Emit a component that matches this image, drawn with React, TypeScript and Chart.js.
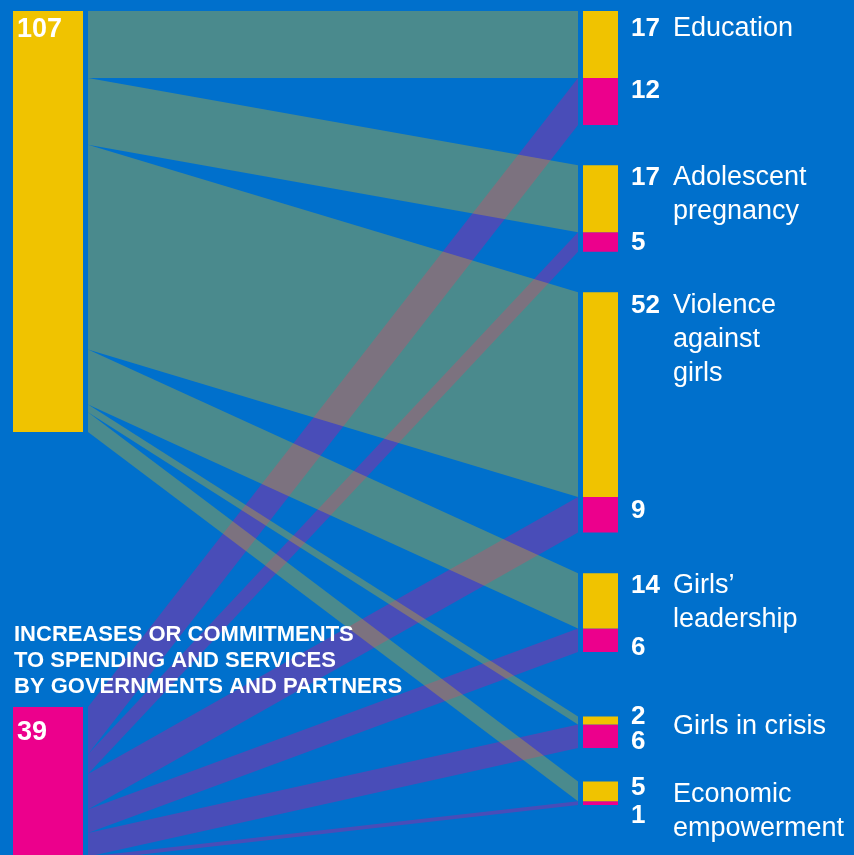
import { useEffect, useRef } from "react";
import { Chart, registerables } from "chart.js";

Chart.register(...registerables);

// ---------- DATA ----------
const targetNames: string[][] = [
  ["Education"],
  ["Adolescent", "pregnancy"],
  ["Violence", "against", "girls"],
  ["Girls\u2019", "leadership"],
  ["Girls in crisis"],
  ["Economic", "empowerment"],
];
const governmentValues: number[] = [17, 17, 52, 14, 2, 5];
const partnerValues: number[] = [12, 5, 9, 6, 6, 1];
const annotationLines: string[] = [
  "INCREASES OR COMMITMENTS",
  "TO SPENDING AND SERVICES",
  "BY GOVERNMENTS AND PARTNERS",
];

// ---------- LAYOUT / STYLE ----------
const W = 854;
const H = 855;
const PX_PER_UNIT = 3.935;
const TOP_PX = 11;
const TARGET_GAPS = [10.2, 10.3, 10.4, 16.4, 8.5];
const SOURCE_GAP = 69.9;
const LEFT_NODE_X: [number, number] = [13, 83];
const FLOW_X: [number, number] = [88, 578];
const RIGHT_NODE_X: [number, number] = [583, 618];
const NUM_X = 631;
const NAME_X = 673;
const NAME_LINE_H = 34;
const YELLOW_NUM_OFF = [25, 20, 21, 20, 7, 14];
const MAGENTA_NUM_OFF = [20, 18, 21, 27, 25, 22];
const NAME_OFF = [25, 20, 21, 20, 17, 21];

const BG = "#0070CC";
const YELLOW = "#F0C300";
const MAGENTA = "#EC008C";
const YELLOW_FLOW = "rgba(240,196,0,0.31)";
const MAGENTA_FLOW = "rgba(236,0,140,0.31)";
const FONT = "'Liberation Sans', Arial, Helvetica, sans-serif";

export default function App() {
  const ref = useRef<HTMLCanvasElement | null>(null);

  useEffect(() => {
    if (!ref.current) return;
    const sum = (a: number[]) => a.reduce((s, v) => s + v, 0);
    const govTotal = sum(governmentValues);
    const partTotal = sum(partnerValues);

    // target group starts (value units)
    const groupStart: number[] = [];
    let cur = 0;
    governmentValues.forEach((g, i) => {
      groupStart.push(cur);
      cur += g + partnerValues[i];
      if (i < TARGET_GAPS.length) cur += TARGET_GAPS[i];
    });
    const partnerSourceStart = govTotal + SOURCE_GAP;

    const datasets: any[] = [];
    const band = (
      x0: number, a0: number, b0: number,
      x1: number, a1: number, b1: number,
      color: string, order: number
    ) => {
      datasets.push({
        data: [{ x: x0, y: a0 }, { x: x1, y: a1 }],
        borderColor: "rgba(0,0,0,0)",
        borderWidth: 0,
        pointRadius: 0,
        fill: false,
        order,
      });
      datasets.push({
        data: [{ x: x0, y: b0 }, { x: x1, y: b1 }],
        borderColor: "rgba(0,0,0,0)",
        borderWidth: 0,
        backgroundColor: color,
        pointRadius: 0,
        fill: "-1",
        order,
      });
    };

    // nodes (order 0 -> on top)
    band(LEFT_NODE_X[0], 0, govTotal, LEFT_NODE_X[1], 0, govTotal, YELLOW, 0);
    band(LEFT_NODE_X[0], partnerSourceStart, partnerSourceStart + partTotal,
      LEFT_NODE_X[1], partnerSourceStart, partnerSourceStart + partTotal, MAGENTA, 0);
    governmentValues.forEach((g, i) => {
      const s = groupStart[i];
      band(RIGHT_NODE_X[0], s, s + g, RIGHT_NODE_X[1], s, s + g, YELLOW, 0);
      const m = s + g;
      band(RIGHT_NODE_X[0], m, m + partnerValues[i], RIGHT_NODE_X[1], m, m + partnerValues[i], MAGENTA, 0);
    });

    // flows
    let gy = 0;
    let py = partnerSourceStart;
    governmentValues.forEach((g, i) => {
      const s = groupStart[i];
      band(FLOW_X[0], gy, gy + g, FLOW_X[1], s, s + g, YELLOW_FLOW, 1);
      gy += g;
      const p = partnerValues[i];
      band(FLOW_X[0], py, py + p, FLOW_X[1], s + g, s + g + p, MAGENTA_FLOW, 2);
      py += p;
    });

    const labelPlugin = {
      id: "labels",
      afterDatasetsDraw(chart: any) {
        const ctx = chart.ctx as CanvasRenderingContext2D;
        const y = chart.scales.y;
        const x = chart.scales.x;
        ctx.save();
        ctx.fillStyle = "#FFFFFF";
        ctx.textBaseline = "alphabetic";
        ctx.textAlign = "left";
        governmentValues.forEach((g, i) => {
          const top = y.getPixelForValue(groupStart[i]);
          const mTop = y.getPixelForValue(groupStart[i] + g);
          ctx.font = `bold 26px ${FONT}`;
          ctx.fillText(String(g), x.getPixelForValue(NUM_X), top + YELLOW_NUM_OFF[i]);
          ctx.fillText(String(partnerValues[i]), x.getPixelForValue(NUM_X), mTop + MAGENTA_NUM_OFF[i]);
          ctx.font = `27px ${FONT}`;
          targetNames[i].forEach((line, j) => {
            ctx.fillText(line, x.getPixelForValue(NAME_X), top + NAME_OFF[i] + j * NAME_LINE_H);
          });
        });
        ctx.font = `bold 27px ${FONT}`;
        ctx.fillText(String(govTotal), x.getPixelForValue(LEFT_NODE_X[0] + 4), y.getPixelForValue(0) + 26);
        const pTop = y.getPixelForValue(partnerSourceStart);
        ctx.fillText(String(partTotal), x.getPixelForValue(LEFT_NODE_X[0] + 4), pTop + 33);
        ctx.font = `bold 22px ${FONT}`;
        annotationLines.forEach((line, j) => {
          ctx.fillText(line, x.getPixelForValue(LEFT_NODE_X[0] + 1), pTop - 66 + j * 26);
        });
        ctx.restore();
      },
    };

    const chart = new Chart(ref.current, {
      type: "line",
      data: { datasets },
      options: {
        animation: false,
        responsive: false,
        devicePixelRatio: 1,
        layout: { padding: 0 },
        events: [],
        plugins: { legend: { display: false }, tooltip: { enabled: false } },
        elements: { line: { tension: 0 } },
        scales: {
          x: { type: "linear", min: 0, max: W, display: false },
          y: {
            type: "linear",
            reverse: true,
            min: -TOP_PX / PX_PER_UNIT,
            max: (H - TOP_PX) / PX_PER_UNIT,
            display: false,
          },
        },
      },
      plugins: [labelPlugin],
    });
    return () => chart.destroy();
  }, []);

  return (
    <div style={{ position: "fixed", left: 0, top: 0, width: W, height: H, background: BG }}>
      <canvas ref={ref} width={W} height={H} style={{ display: "block", width: W, height: H }} />
    </div>
  );
}
